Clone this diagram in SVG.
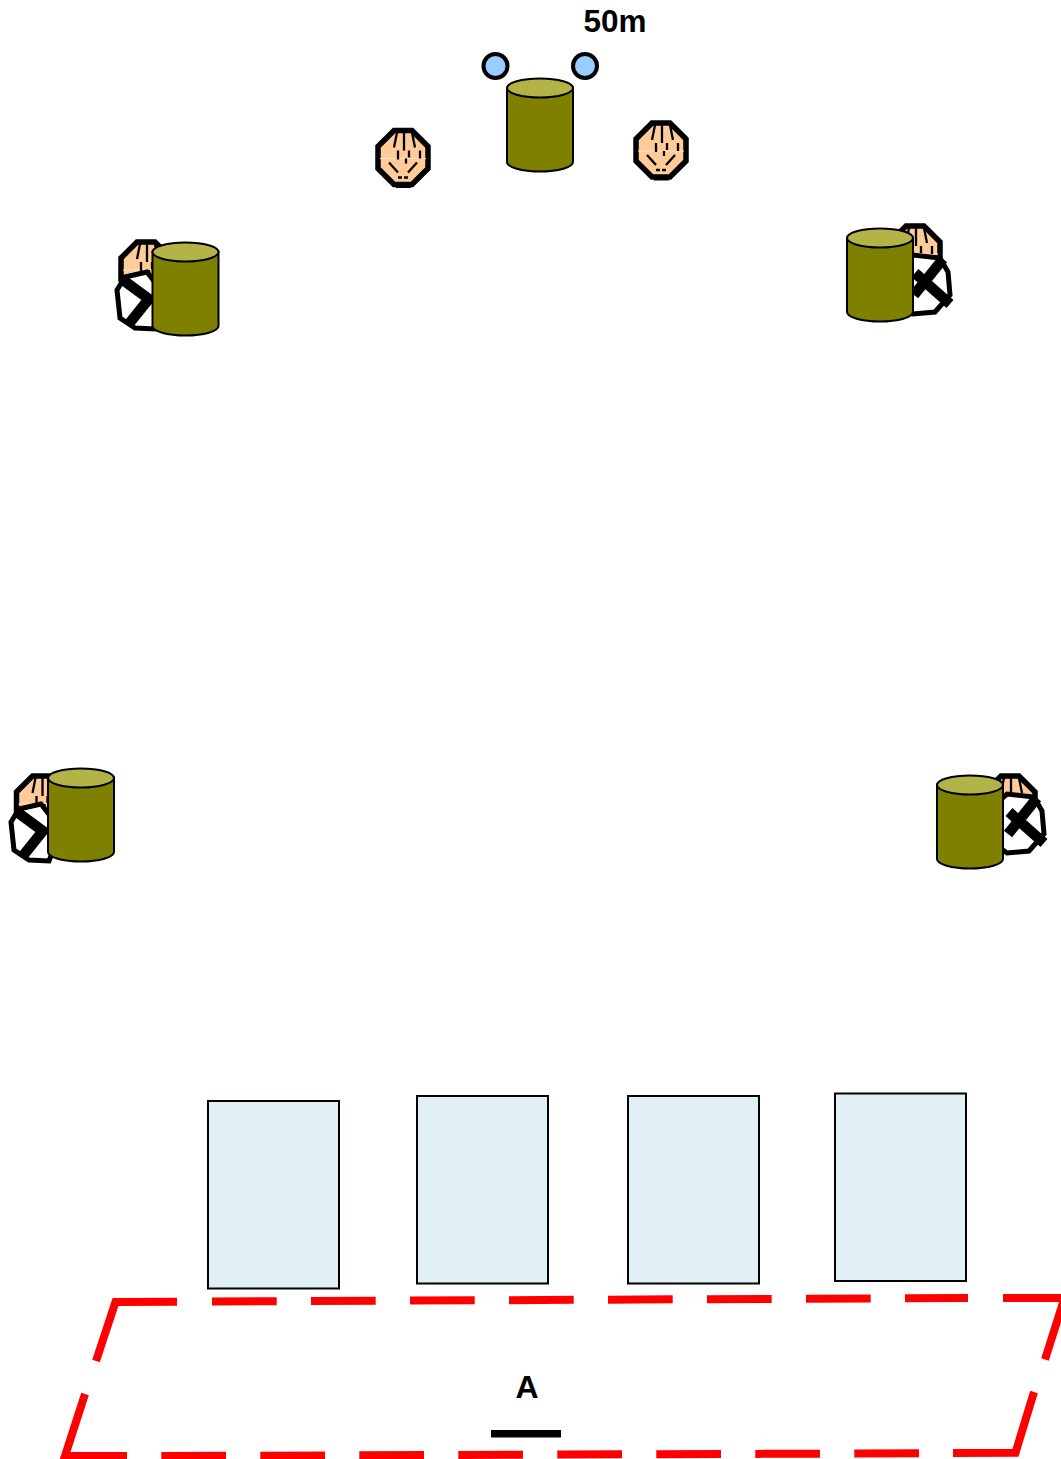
<svg xmlns="http://www.w3.org/2000/svg" width="1061" height="1459" viewBox="0 0 1061 1459">
<style>
text{font-family:"Liberation Sans",Arial,sans-serif;font-weight:bold;fill:#000}
.zone{fill:none;stroke:#f00;stroke-width:8;stroke-miterlimit:10}
.dash{stroke-dasharray:64.7 34.3}
.bld{fill:#e1f0f4;stroke:#000;stroke-width:2}
.dot{fill:#99ccff;stroke:#000;stroke-width:4}
.hd{fill:#ffcc99;stroke:#000;stroke-width:5.500;stroke-linejoin:miter}
.hl{fill:none;stroke:#000;stroke-width:2.300}
.bd{fill:#fff;stroke:#000;stroke-width:5}
.x{fill:none;stroke:#000;stroke-width:10.500}
.cy{fill:#808000;stroke:#000;stroke-width:2}
.ct{fill:#b3b347;stroke:#000;stroke-width:2}
</style>
<defs>
<g id="head">
<polygon class="hd" points="-9,-27 9,-27 25,-11 25,11 9,27 -9,27 -25,11 -25,-11"/>
<path d="M-23 1H23" stroke="#ffe3c6" stroke-width="1" fill="none"/>
<path class="hl" d="M-6-25L-9-10M1-25L1-7M9-25L12-10M-5-7V2M3 1V6M6-7V0M17-7V1M-14 5L-5 15M14 5L5 15M-5 20H-1M1 20H5"/>
<path d="M-7 28.500H8" stroke="#000" stroke-width="4" fill="none"/>
</g>
<g id="bodyR">
<polygon class="bd" points="12,-25 20,-11 22,12 7,29 -15,31 -30,20 -30,-15 -15,-28"/>
<path class="x" d="M15-24L-14 12M-13-10L22 21"/>
</g>
<g id="bodyL">
<polygon class="bd" points="0,-26 -22,-21 -30,-8 -27,20 -12,30 8,31 20,0"/>
<path class="x" d="M-24-18L6 4M-19 27L5-3"/>
</g>
<g id="can">
<path class="cy" d="M0 10V84A33 9.500 0 0 0 66 84V10Z"/>
<ellipse class="ct" cx="33" cy="10" rx="33" ry="9.500"/>
</g>
</defs>
<text x="615" y="32" font-size="31" text-anchor="middle" textLength="63" lengthAdjust="spacingAndGlyphs">50m</text>
<g id="sensor-1"><circle class="dot" cx="495.500" cy="66" r="12"/></g>
<g id="sensor-2"><circle class="dot" cx="585" cy="66" r="12"/></g>
<g id="can-top"><use href="#can" x="507" y="78"/></g>
<g id="person-1"><use href="#head" x="403" y="157.500"/></g>
<g id="person-2"><use href="#head" x="661" y="150"/></g>
<g id="fallen-1"><use href="#head" x="146" y="269"/><use href="#bodyL" x="147" y="298"/><use href="#can" x="152.500" y="242"/></g>
<g id="fallen-2"><use href="#head" x="915" y="253"/><use href="#bodyR" x="928" y="283"/><use href="#can" x="847" y="228"/></g>
<g id="fallen-3"><use href="#head" x="41.500" y="803"/><use href="#bodyL" x="41" y="830"/><use href="#can" x="48" y="768"/></g>
<g id="fallen-4"><use href="#head" x="1010" y="803"/><use href="#bodyR" x="1022" y="822"/><use href="#can" x="937" y="775"/></g>
<g id="block-1"><rect class="bld" x="208" y="1101" width="131" height="187.500"/></g>
<g id="block-2"><rect class="bld" x="417" y="1096" width="131" height="187.500"/></g>
<g id="block-3"><rect class="bld" x="628" y="1096" width="131" height="187.500"/></g>
<g id="block-4"><rect class="bld" x="835" y="1093.500" width="131" height="187.500"/></g>
<g id="zone-a">
<path class="zone" d="M96 1361L115.500 1302L177 1301.700"/>
<path class="zone dash" d="M212 1301.500L968 1298"/>
<path class="zone" d="M1003 1298H1064.500L1045 1359.500"/>
<path class="zone" d="M1034 1392L1015.500 1452.700L953 1453"/>
<path class="zone dash" d="M919 1453.300L161 1456"/>
<path class="zone" d="M127 1456H65L85 1394"/>
</g>
<text x="527" y="1398" font-size="32" text-anchor="middle">A</text>
<rect id="scale-bar" x="491" y="1430" width="70" height="7.500" fill="#000"/>
</svg>
